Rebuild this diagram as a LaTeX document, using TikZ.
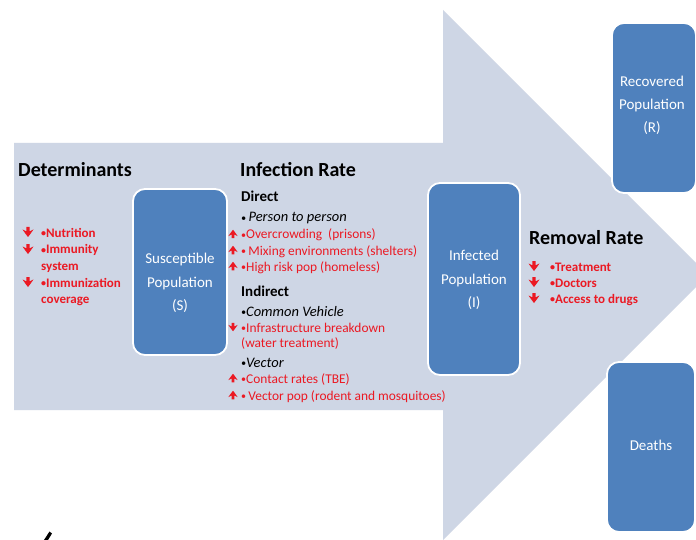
\documentclass[tikz,border=0pt]{standalone}
\usepackage{fontspec}
\setmainfont{Carlito}
\definecolor{arrowbg}{RGB}{206,214,229}
\definecolor{boxblue}{RGB}{79,129,189}
\definecolor{redt}{RGB}{235,25,35}
\newcommand{\bul}{{\fontsize{10}{10}\selectfont\raisebox{0.6pt}{•}}}
\begin{document}
\begin{tikzpicture}[x=1pt,y=-1pt,
  popbox/.style={draw=white, line width=1.8pt, fill=boxblue, rounded corners=12pt, inner sep=0pt},
  boxtxt/.style={text=white, font=\fontsize{15}{15}\selectfont, anchor=base, inner sep=0pt},
  bighead/.style={font=\bfseries\fontsize{20}{20}\selectfont, anchor=base west, inner sep=0pt},
  subhead/.style={font=\bfseries\fontsize{15}{15}\selectfont, anchor=base west, inner sep=0pt},
  ital/.style={font=\itshape\fontsize{14.5}{14.5}\selectfont, anchor=base west, inner sep=0pt},
  redr/.style={text=redt, font=\fontsize{13.4}{13.4}\selectfont, anchor=base west, inner sep=0pt},
  redb/.style={text=redt, font=\bfseries\fontsize{13}{13}\selectfont, anchor=base west, inner sep=0pt},
  darr/.pic={\fill[redt] (0,5) .. controls (-2,2.5) .. (-5.5,-2.5) -- (-1.6,-0.6) -- (-1.6,-5) -- (1.6,-5) -- (1.6,-0.6) -- (5.5,-2.5) .. controls (2,2.5) .. (0,5) -- cycle;},
  uarr/.pic={\fill[redt] (0,-5) .. controls (-2,-2.5) .. (-5.5,2.5) -- (-1.6,0.6) -- (-1.6,5) -- (1.6,5) -- (1.6,0.6) -- (5.5,2.5) .. controls (2,-2.5) .. (0,-5) -- cycle;}
]
\useasboundingbox (0,0) rectangle (696,540);
\fill[white] (0,0) rectangle (696,540);
% big arrow
\begin{scope}
\clip (0,0) rectangle (696,540);
\fill[arrowbg] (14,143) -- (443,143) -- (443,10) -- (708,275) -- (443,540) -- (443,410) -- (14,410) -- cycle;
\end{scope}
% stray mark
\fill[black] (44,540) -- (48,540) -- (52,533.5) -- (49.5,531.5) -- cycle;

% boxes
\node[popbox, minimum width=94, minimum height=166] (S) at (180,272) {};
\node[popbox, minimum width=92, minimum height=192] (I) at (474,279) {};
\node[popbox, minimum width=84, minimum height=170] (R) at (654,108) {};
\node[popbox, minimum width=88, minimum height=170] (D) at (651,447) {};

\node[boxtxt] (s1) at (180,263) {Susceptible};
\node[boxtxt] (s2) at (180,287) {Population};
\node[boxtxt] (s3) at (180,310) {(S)};
\node[boxtxt] (i1) at (474,260) {Infected};
\node[boxtxt] (i2) at (474,284) {Population};
\node[boxtxt] (i3) at (474,307) {(I)};
\node[boxtxt] (r1) at (652,87) {Recovered};
\node[boxtxt] (r2) at (652,110) {Population};
\node[boxtxt] (r3) at (652,133) {(R)};
\node[boxtxt] (d1) at (651,450) {Deaths};

% Determinants
\node[bighead] (det) at (18,177) {Determinants};
\node[redb] (n1) at (41,237) {\bul Nutrition};
\node[redb] (n2) at (41,254) {\bul Immunity};
\node[redb] (n3) at (41,270) {system};
\node[redb] (n4) at (41,287) {\bul Immunization};
\node[redb] (n5) at (41,303) {coverage};
\pic at (28,232) {darr};
\pic at (28,249) {darr};
\pic at (28,282) {darr};

% Infection rate
\node[bighead] (inf) at (240,177) {Infection Rate};
\node[subhead] (dir) at (241,202) {Direct};
\node[ital] (p1) at (241,222) {\bul\,Person to person};
\node[redr] (p2) at (241,239) {\bul Overcrowding\ \ (prisons)};
\node[redr] (p3) at (241,255) {\bul\,Mixing environments (shelters)};
\node[redr] (p4) at (241,271) {\bul High risk pop (homeless)};
\node[subhead] (ind) at (241,296) {Indirect};
\node[ital] (p5) at (241,316) {\bul Common Vehicle};
\node[redr] (p6) at (241,332) {\bul Infrastructure breakdown};
\node[redr] (p7) at (241,347) {(water treatment)};
\node[ital] (p8) at (241,367) {\bul Vector};
\node[redr] (p9) at (241,383) {\bul Contact rates (TBE)};
\node[redr] (p10) at (241,400) {\bul\,Vector pop (rodent and mosquitoes)};
\pic[scale=0.85] at (233,234) {uarr};
\pic[scale=0.85] at (233,250) {uarr};
\pic[scale=0.85] at (233,266) {uarr};
\pic[scale=0.85] at (233,327) {darr};
\pic[scale=0.85] at (233,378) {uarr};
\pic[scale=0.85] at (233,395) {uarr};

% Removal rate
\node[bighead] (rem) at (529,244) {Removal Rate};
\node[redb] (t1) at (550,271) {\bul Treatment};
\node[redb] (t2) at (550,287) {\bul Doctors};
\node[redb] (t3) at (550,303) {\bul Access to drugs};
\pic at (534,266) {darr};
\pic at (534,282) {darr};
\pic at (534,298) {darr};
\end{tikzpicture}
\end{document}
